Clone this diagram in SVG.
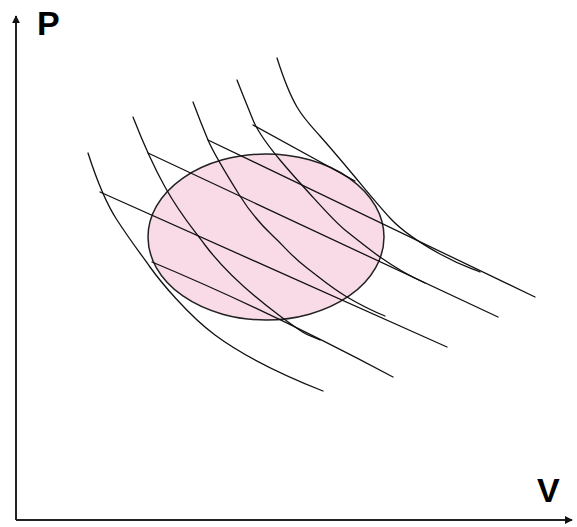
<svg xmlns="http://www.w3.org/2000/svg" width="577" height="527" viewBox="0 0 577 527">
<style>
.ax{stroke:#222;stroke-width:2;fill:none}
.c{stroke:#111;stroke-width:1.3;fill:none;stroke-linecap:round}
.lbl{font-family:"Liberation Sans",Arial,sans-serif;font-weight:bold;font-size:34px;fill:#000}
</style>
<defs>
<marker id="ah" viewBox="0 0 10 10" refX="9" refY="5" markerWidth="4" markerHeight="4" orient="auto" markerUnits="strokeWidth">
<path d="M0,0 L10,5 L0,10 z" fill="#111"/>
</marker>
</defs>
<rect width="577" height="527" fill="#fff"/>
<g id="axes">
<path class="ax" d="M16,520 L16,16" marker-end="url(#ah)"/>
<path class="ax" d="M16,520 L572,520" marker-end="url(#ah)"/>
</g>
<g id="label-P"><text class="lbl" x="37" y="35">P</text></g>
<g id="label-V"><text class="lbl" x="537" y="502">V</text></g>
<g id="cycle">
<ellipse cx="266" cy="237" rx="118" ry="83" fill="#f9dbe7" stroke="#222" stroke-width="1.5"/>
</g>
<g id="connectors">
<path class="c" d="M88,153 C96,178 104,200 117,220 S140,253 150,267 S188,315 215,335 S280,374 323,391"/>
<path class="c" d="M133,117 C140,135 150,160 165,187 S190,225 205,245 S245,290 280,316 S305,332 320,340"/>
<path class="c" d="M193,102 C199,118 203,128 208,140 S230,180 240,196 S258,222 273,236 S290,255 307,268 S330,287 347,297 S370,310 385,316"/>
<path class="c" d="M237,80 C244,98 249,110 253,120 S270,148 280,160 S300,183 310,194 S335,222 345,230 S370,250 380,257 S405,274 425,283"/>
<path class="c" d="M277,58 C284,80 290,95 297,107 S312,127 320,136 S345,165 355,177 S378,205 390,218 S420,243 440,254 S465,266 480,272"/>
<path class="c" d="M152,262 Q267,310 393,377"/>
<path class="c" d="M100,192 L447,347"/>
<path class="c" d="M148,153 L498,317"/>
<path class="c" d="M208,140 L535,297"/>
<path class="c" d="M253,125 L355,181"/>
</g>
</svg>
